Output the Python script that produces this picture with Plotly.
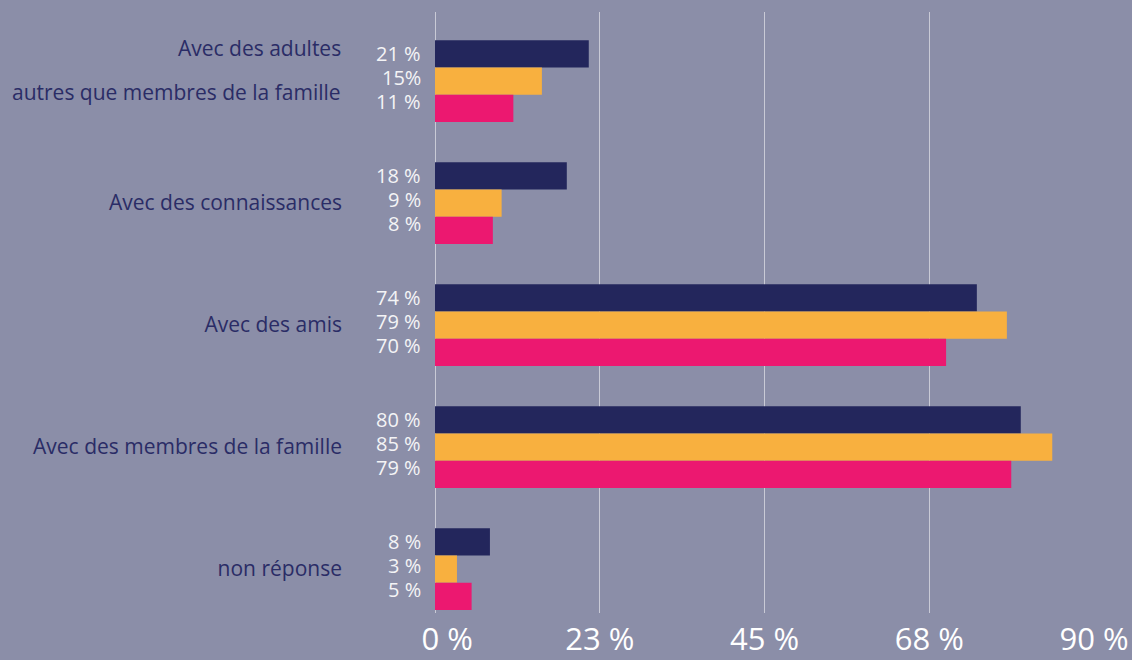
import plotly.graph_objects as go

categories = [
    "Avec des adultes autres que membres de la famille",
    "Avec des connaissances",
    "Avec des amis",
    "Avec des membres de la famille",
    "non réponse",
]
category_tick_text = [
    "",
    "Avec des connaissances",
    "Avec des amis",
    "Avec des membres de la famille",
    "non réponse",
]
first_label_lines = ["Avec des adultes", "autres que membres de la famille"]
series_names = ["Série 1", "Série 2", "Série 3"]
series_values = [
    [21, 18, 74, 80, 7.5],
    [14.6, 9.1, 78.1, 84.3, 3],
    [10.7, 7.9, 69.8, 78.7, 5],
]
value_labels = [
    ["21 %", "18 %", "74 %", "80 %", "8 %"],
    ["15%", "9 %", "79 %", "85 %", "3 %"],
    ["11 %", "8 %", "70 %", "79 %", "5 %"],
]
colors = ["#23265c", "#f8b03f", "#ec1870"]
tick_vals = [0, 22.5, 45, 67.5, 90]
tick_text = ["\u00a0\u00a0\u00a00 %", "23 %", "45 %", "68 %", "90 %"]

fig = go.Figure()
for name, vals, col in zip(series_names, series_values, colors):
    fig.add_trace(go.Bar(
        y=categories, x=vals, name=name, orientation="h",
        marker=dict(color=col, line=dict(width=0)),
        showlegend=False, hoverinfo="x+y",
    ))

shifts = [28, 4, -20]
for labels, ys in zip(value_labels, shifts):
    for cat, lab in zip(categories, labels):
        fig.add_annotation(
            x=0, y=cat, xref="x", yref="y", text=lab, showarrow=False,
            xanchor="right", yanchor="middle", xshift=-12, yshift=ys,
            font=dict(family="Open Sans", size=20, color="#f4f4f6"),
        )

for line, ys in zip(first_label_lines, [33, -11]):
    fig.add_annotation(
        x=0, y=categories[0], xref="x", yref="y", text=line, showarrow=False,
        xanchor="right", yanchor="middle", xshift=-92, yshift=ys,
        font=dict(family="Open Sans", size=21, color="#2a2c66"),
    )

fig.update_layout(
    width=1132, height=660,
    paper_bgcolor="#8b8ea8", plot_bgcolor="#8b8ea8",
    margin=dict(l=435, r=38, t=12, b=47),
    barmode="group", bargap=0.33, bargroupgap=0,
    font=dict(family="Open Sans"),
)
fig.update_xaxes(
    range=[0, 90], tickvals=tick_vals, ticktext=tick_text,
    showgrid=True, gridcolor="#c9cad6", gridwidth=1,
    zeroline=True, zerolinecolor="#c9cad6", zerolinewidth=1,
    tickfont=dict(family="Open Sans", size=31, color="#ffffff"),
    ticks="", showline=False, fixedrange=True, ticklabelstandoff=5,
    automargin=False,
)
fig.update_yaxes(
    type="category", range=[4.36, -0.566],
    tickvals=categories, ticktext=category_tick_text,
    tickfont=dict(family="Open Sans", size=21, color="#2a2c66"),
    ticks="", showgrid=False, showline=False, ticklabelstandoff=92,
    fixedrange=True, automargin=False,
)

fig.write_html(
    "out.html",
    config={"displayModeBar": False},
    post_script="document.body.style.margin='0';document.body.style.overflow='hidden';",
)
